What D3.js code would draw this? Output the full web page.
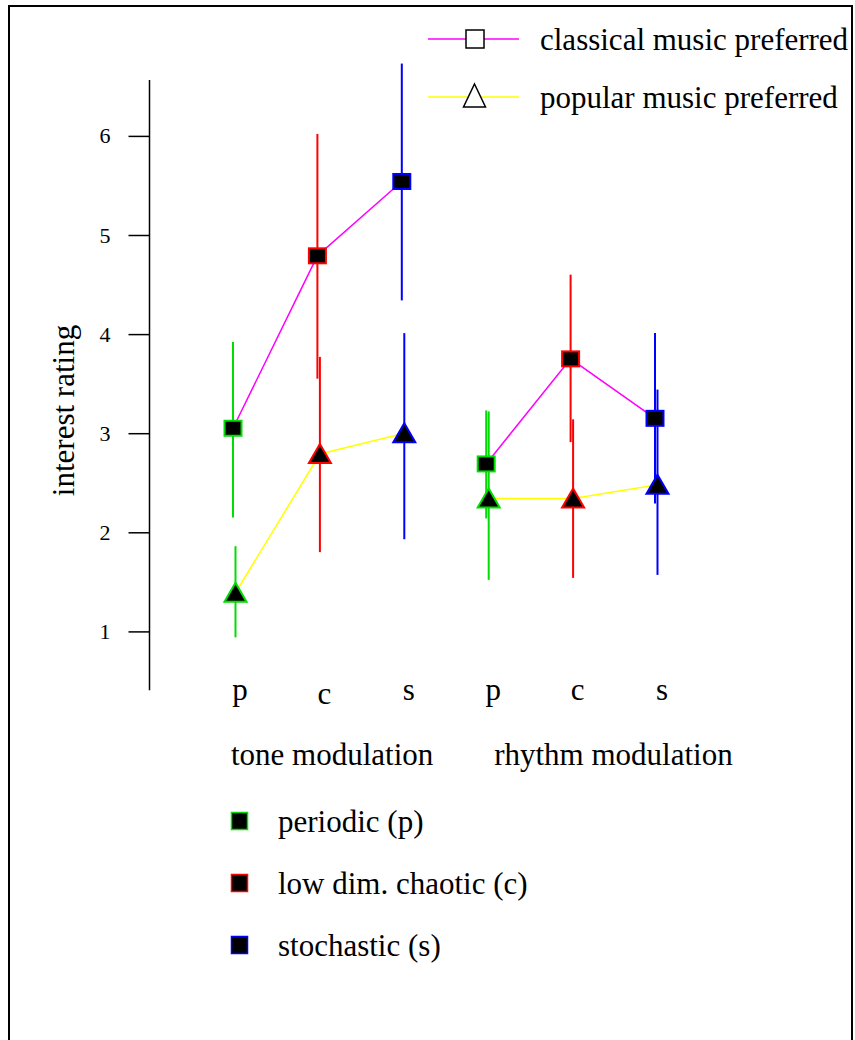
<!DOCTYPE html>
<html lang="en">
<head>
    <meta charset="UTF-8">
    <title>interest rating</title>
    <script src="https://d3js.org/d3.v7.min.js"></script>
    <style>
        body { margin: 0; background: #fff; }
        svg text { font-family: "Liberation Serif", "Times New Roman", serif; fill: #000; }
    </style>
</head>
<body>
    <svg id="chart" width="855" height="1040"></svg>

    <script>
        // data
        const groups = ["tone modulation", "rhythm modulation"];
        const signals = ["p", "c", "s"];
        const signalNames = ["periodic (p)", "low dim. chaotic (c)", "stochastic (s)"];
        const signalColors = ["#00dd00", "#ff0000", "#0000ff"];

        const classicalMean = [3.05, 4.79, 5.54, 2.69, 3.75, 3.15];
        const classicalLow  = [2.15, 3.55, 4.34, 2.14, 2.91, 2.29];
        const classicalHigh = [3.92, 6.02, 6.73, 3.23, 4.60, 4.01];

        const popularMean = [1.39, 2.79, 3.00, 2.34, 2.34, 2.48];
        const popularLow  = [0.94, 1.80, 1.93, 1.52, 1.54, 1.57];
        const popularHigh = [1.86, 3.77, 4.01, 3.22, 3.14, 3.44];

        const yTicks = [1, 2, 3, 4, 5, 6];

        const series = [
            { name: "classical music preferred", color: "#ff00ff", mean: classicalMean, low: classicalLow, high: classicalHigh, shape: "square", dx: -1 },
            { name: "popular music preferred", color: "#ffff00", mean: popularMean, low: popularLow, high: popularHigh, shape: "triangle", dx: 1.5 }
        ];

        const svg = d3.select("#chart");
        const fs = 31;

        // frame round the whole figure
        svg.append("rect")
            .attr("x", 9).attr("y", 6)
            .attr("width", 843).attr("height", 1060)
            .attr("fill", "none")
            .attr("stroke", "#000")
            .attr("stroke-width", 2);

        const keys = [];
        groups.forEach((g, gi) => signals.forEach((s, si) => keys.push({ key: gi + "-" + s, group: gi, sig: si })));

        const x = d3.scalePoint()
            .domain(keys.map(k => k.key))
            .range([234, 656]);

        const y = d3.scaleLinear()
            .domain([1, 6])
            .range([631.4, 135.9]);

        // y axis
        const yAxis = svg.append("g")
            .attr("transform", "translate(149.5,0)")
            .call(d3.axisLeft(y).tickValues(yTicks).tickSize(21).tickPadding(18).tickFormat(d3.format("d")));
        yAxis.select(".domain").remove();
        yAxis.selectAll(".tick line").attr("stroke", "#000").attr("stroke-width", 1.5);
        yAxis.selectAll(".tick text").attr("font-size", 22);
        yAxis.append("line")
            .attr("y1", y(6.565)).attr("y2", y(0.405))
            .attr("stroke", "#000").attr("stroke-width", 1.5);

        svg.append("text")
            .attr("transform", "translate(74,410.5) rotate(-90)")
            .attr("text-anchor", "middle")
            .attr("font-size", fs)
            .text("interest rating");

        // connecting lines, one piece per group
        series.forEach(sr => {
            groups.forEach((g, gi) => {
                const pts = keys.filter(k => k.group === gi).map(k => {
                    const i = keys.indexOf(k);
                    return [x(k.key) + sr.dx, y(sr.mean[i])];
                });
                svg.append("path")
                    .attr("d", d3.line()(pts))
                    .attr("fill", "none")
                    .attr("stroke", sr.color)
                    .attr("stroke-width", 1.5);
            });
        });

        // error bars
        series.forEach(sr => {
            svg.append("g").selectAll("line")
                .data(keys)
                .join("line")
                .attr("x1", d => x(d.key) + sr.dx)
                .attr("x2", d => x(d.key) + sr.dx)
                .attr("y1", (d, i) => y(sr.low[i]))
                .attr("y2", (d, i) => y(sr.high[i]))
                .attr("stroke", d => signalColors[d.sig])
                .attr("stroke-width", 2);
        });

        // markers
        const tri = "M0,-10L11,9L-11,9Z";
        series.forEach(sr => {
            const g = svg.append("g");
            if (sr.shape === "square") {
                g.selectAll("rect")
                    .data(keys)
                    .join("rect")
                    .attr("x", d => x(d.key) + sr.dx - 8.5)
                    .attr("y", (d, i) => y(sr.mean[i]) - 7.5)
                    .attr("width", 17).attr("height", 15)
                    .attr("fill", "#000")
                    .attr("stroke", d => signalColors[d.sig])
                    .attr("stroke-width", 2);
            } else {
                g.selectAll("path")
                    .data(keys)
                    .join("path")
                    .attr("transform", (d, i) => `translate(${x(d.key) + sr.dx},${y(sr.mean[i])})`)
                    .attr("d", tri)
                    .attr("fill", "#000")
                    .attr("stroke", d => signalColors[d.sig])
                    .attr("stroke-width", 2);
            }
        });

        // category letters and group names
        svg.append("g").selectAll("text")
            .data(keys)
            .join("text")
            .attr("x", d => x(d.key) + 6)
            .attr("y", d => d.key === "0-c" ? 704 : 700)
            .attr("text-anchor", "middle")
            .attr("font-size", fs)
            .text(d => signals[d.sig]);

        const groupShift = [-3, 7];
        svg.append("g").selectAll("text")
            .data(groups)
            .join("text")
            .attr("x", (d, gi) => x(gi + "-p") + groupShift[gi])
            .attr("y", 765)
            .attr("font-size", fs)
            .text(d => d);

        // legend for the two series (top right)
        const legTop = svg.append("g");
        series.forEach((sr, i) => {
            const ly = 39 + i * 58;
            legTop.append("line")
                .attr("x1", 428).attr("x2", 519)
                .attr("y1", ly).attr("y2", ly)
                .attr("stroke", sr.color).attr("stroke-width", 1.5);
            if (sr.shape === "square") {
                legTop.append("rect")
                    .attr("x", 466).attr("y", ly - 9)
                    .attr("width", 18).attr("height", 18)
                    .attr("fill", "#fff").attr("stroke", "#000").attr("stroke-width", 1.5);
            } else {
                legTop.append("path")
                    .attr("transform", `translate(474.5,${ly})`)
                    .attr("d", "M0,-13L11,10L-11,10Z")
                    .attr("fill", "#fff").attr("stroke", "#000").attr("stroke-width", 1.5);
            }
            legTop.append("text")
                .attr("x", 540).attr("y", ly + 10.5)
                .attr("font-size", fs)
                .text(sr.name);
        });

        // legend for the signal types (bottom)
        const legBottom = svg.append("g");
        const legRows = [821, 883, 945];
        signalNames.forEach((name, i) => {
            legBottom.append("rect")
                .attr("x", 231.5).attr("y", legRows[i] - 8.5)
                .attr("width", 16).attr("height", 17)
                .attr("fill", "#000")
                .attr("stroke", signalColors[i])
                .attr("stroke-width", 1.5);
            legBottom.append("text")
                .attr("x", 278).attr("y", legRows[i] + 11)
                .attr("font-size", fs)
                .text(name);
        });
    </script>
</body>
</html>
